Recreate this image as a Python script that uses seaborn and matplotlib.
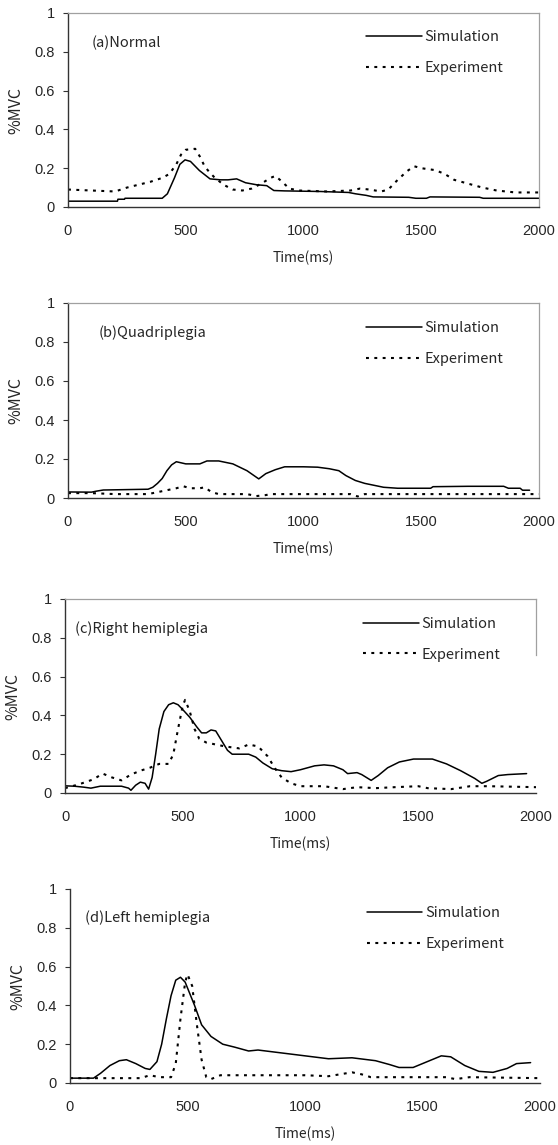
import matplotlib
matplotlib.use("Agg")
import matplotlib.pyplot as plt
import seaborn as sns

sns.set_style("white")
plt.rcParams['font.family'] = ['Noto Sans CJK JP', 'DejaVu Sans']

# ---------------- data ----------------
panel_titles = ["(a)Normal", "(b)Quadriplegia", "(c)Right hemiplegia", "(d)Left hemiplegia"]
series_names = ["Simulation", "Experiment"]
x_ticks = [0, 500, 1000, 1500, 2000]
x_tick_labels = ["0", "500", "1000", "1500", "2000"]
y_ticks = [0, 0.2, 0.4, 0.6, 0.8, 1.0]
y_tick_labels = ["0", "0.2", "0.4", "0.6", "0.8", "1"]
x_label = "Time(ms)"
y_label = "%MVC"

t_a_sim = [0, 210, 212, 240, 242, 400, 422, 452, 475, 497, 520, 558, 603, 648, 680, 716, 754, 799, 844, 874,
           920, 1070, 1191, 1221, 1266, 1296, 1447, 1477, 1522, 1537, 1748, 1763, 2000]
v_a_sim = [0.03, 0.03, 0.04, 0.04, 0.045, 0.045, 0.068, 0.15, 0.22, 0.243, 0.235, 0.188, 0.145, 0.14, 0.14,
           0.145, 0.125, 0.115, 0.11, 0.085, 0.083, 0.08, 0.075, 0.068, 0.06, 0.052, 0.05, 0.045, 0.045, 0.052,
           0.05, 0.045, 0.045]
t_a_exp = [0, 100, 200, 250, 300, 350, 400, 430, 460, 480, 500, 540, 560, 580, 600, 620, 660, 700, 740, 780,
           820, 860, 880, 900, 940, 980, 1100, 1200, 1240, 1280, 1330, 1360, 1400, 1440, 1470, 1500, 1560, 1600,
           1640, 1700, 1760, 1820, 1900, 2000]
v_a_exp = [0.09, 0.085, 0.08, 0.1, 0.115, 0.13, 0.15, 0.17, 0.22, 0.27, 0.295, 0.3, 0.26, 0.21, 0.18, 0.155,
           0.115, 0.09, 0.085, 0.095, 0.12, 0.15, 0.16, 0.14, 0.095, 0.085, 0.08, 0.085, 0.095, 0.09, 0.08, 0.09,
           0.14, 0.185, 0.21, 0.2, 0.19, 0.17, 0.14, 0.12, 0.1, 0.085, 0.075, 0.075]

t_b_sim = [0, 100, 120, 150, 200, 340, 360, 380, 400, 420, 440, 460, 500, 560, 590, 640, 700, 760, 810, 840,
           880, 920, 1000, 1060, 1110, 1150, 1180, 1220, 1260, 1300, 1340, 1400, 1540, 1550, 1700, 1850, 1870,
           1920, 1930, 1960]
v_b_sim = [0.031, 0.03, 0.035, 0.041, 0.042, 0.045, 0.055, 0.075, 0.1, 0.14, 0.17, 0.186, 0.175, 0.175, 0.19,
           0.19, 0.175, 0.14, 0.098, 0.125, 0.145, 0.16, 0.16, 0.158, 0.15, 0.14, 0.115, 0.09, 0.075, 0.065,
           0.055, 0.05, 0.05, 0.058, 0.06, 0.06, 0.05, 0.05, 0.04, 0.04]
t_b_exp = [0, 100, 200, 340, 380, 420, 460, 490, 520, 560, 580, 610, 640, 760, 800, 840, 860, 1000, 1200, 1230,
           1260, 1500, 2000]
v_b_exp = [0.025, 0.025, 0.02, 0.02, 0.03, 0.04, 0.05, 0.06, 0.05, 0.05, 0.055, 0.03, 0.02, 0.02, 0.01, 0.015,
           0.02, 0.02, 0.02, 0.008, 0.02, 0.02, 0.02]

t_c_sim = [0, 40, 80, 110, 150, 240, 270, 280, 300, 320, 340, 355, 370, 385, 400, 420, 440, 460, 480, 500, 530,
           560, 580, 600, 620, 640, 660, 690, 710, 780, 810, 840, 880, 920, 960, 1000, 1060, 1100, 1140, 1180,
           1200, 1240, 1260, 1300, 1330, 1370, 1420, 1480, 1560, 1620, 1680, 1740, 1770, 1790, 1840, 1880, 1960]
v_c_sim = [0.037, 0.035, 0.03, 0.025, 0.035, 0.035, 0.025, 0.014, 0.04, 0.056, 0.05, 0.02, 0.08, 0.2, 0.33,
           0.42, 0.455, 0.465, 0.455, 0.43, 0.39, 0.34, 0.31, 0.31, 0.325, 0.32, 0.28, 0.22, 0.2, 0.2, 0.185,
           0.155, 0.125, 0.115, 0.11, 0.12, 0.14, 0.145, 0.14, 0.12, 0.1, 0.105, 0.095, 0.065, 0.09, 0.13, 0.16,
           0.175, 0.175, 0.15, 0.115, 0.075, 0.05, 0.06, 0.09, 0.095, 0.1]
t_c_exp = [0, 60, 120, 160, 200, 240, 280, 320, 360, 380, 400, 440, 460, 480, 500, 510, 530, 550, 570, 600, 640,
           680, 740, 780, 820, 860, 890, 920, 960, 1000, 1100, 1180, 1240, 1320, 1400, 1500, 1540, 1640, 1720,
           1800, 2000]
v_c_exp = [0.025, 0.045, 0.07, 0.1, 0.08, 0.065, 0.095, 0.115, 0.13, 0.14, 0.15, 0.15, 0.2, 0.33, 0.45, 0.48,
           0.42, 0.33, 0.28, 0.26, 0.25, 0.24, 0.23, 0.25, 0.24, 0.19, 0.13, 0.08, 0.05, 0.035, 0.035, 0.02, 0.03,
           0.025, 0.03, 0.035, 0.025, 0.02, 0.035, 0.035, 0.03]

t_d_sim = [0, 100, 130, 170, 210, 240, 280, 320, 340, 370, 390, 410, 430, 450, 470, 490, 510, 530, 560, 600, 650,
           700, 760, 800, 900, 1000, 1100, 1200, 1300, 1360, 1400, 1460, 1520, 1580, 1620, 1680, 1740, 1800, 1860,
           1900, 1960]
v_d_sim = [0.025, 0.025, 0.05, 0.09, 0.115, 0.12, 0.1, 0.075, 0.07, 0.11, 0.2, 0.33, 0.45, 0.53, 0.545, 0.52,
           0.46, 0.4, 0.3, 0.24, 0.2, 0.185, 0.165, 0.17, 0.155, 0.14, 0.125, 0.13, 0.115, 0.095, 0.08, 0.08, 0.11,
           0.14, 0.135, 0.09, 0.06, 0.055, 0.075, 0.1, 0.105]
t_d_exp = [0, 300, 340, 380, 430, 450, 470, 490, 500, 520, 540, 560, 580, 600, 640, 800, 1000, 1100, 1150, 1200,
           1240, 1280, 1600, 1640, 1700, 2000]
v_d_exp = [0.025, 0.025, 0.04, 0.03, 0.03, 0.1, 0.33, 0.52, 0.56, 0.5, 0.3, 0.12, 0.03, 0.02, 0.04, 0.04, 0.04,
           0.035, 0.045, 0.055, 0.045, 0.03, 0.03, 0.02, 0.03, 0.025]

sim_data = [(t_a_sim, v_a_sim), (t_b_sim, v_b_sim), (t_c_sim, v_c_sim), (t_d_sim, v_d_sim)]
exp_data = [(t_a_exp, v_a_exp), (t_b_exp, v_b_exp), (t_c_exp, v_c_exp), (t_d_exp, v_d_exp)]

# ---------------- layout ----------------
W, H = 558, 1145
fig = plt.figure(figsize=(W / 100, H / 100), dpi=100)
# (left, right, top, bottom) in pixels
boxes = [(68, 539, 13, 207), (68, 539, 303, 498), (65, 536, 599, 793), (70, 540, 889, 1083)]
title_pos = [(0.051, 0.845), (0.064, 0.846), (0.021, 0.845), (0.032, 0.85)]
legend_pos = [(0.633, 0.796), (0.633, 0.792), (0.633, 0.793), (0.632, 0.796)]

tick_font = ['Liberation Sans', 'DejaVu Sans']
frame_grey = '#a0a0a0'

for i in range(4):
    l, r, t, b = boxes[i]
    ax = fig.add_axes([l / W, 1 - b / H, (r - l) / W, (b - t) / H])
    ts, vs = sim_data[i]
    te, ve = exp_data[i]
    sns.lineplot(x=ts, y=vs, ax=ax, color='black', linewidth=1.1, estimator=None,
                 label=series_names[0])
    sns.lineplot(x=te, y=ve, ax=ax, color='black', linewidth=1.5, estimator=None,
                 linestyle=(0, (1.4, 2.6)), label=series_names[1])
    ax.set_xlim(0, 2000)
    ax.set_ylim(0, 1)
    ax.set_xticks(x_ticks)
    ax.set_xticklabels(x_tick_labels, family=tick_font, fontsize=10.5)
    ax.set_yticks(y_ticks)
    ax.set_yticklabels(y_tick_labels, family=tick_font, fontsize=10.5)
    ax.tick_params(axis='x', length=0, pad=12)
    ax.tick_params(axis='y', direction='out', length=3.5, width=0.8, pad=6, left=True, color='#333333')
    ax.set_xlabel(x_label, fontsize=10, labelpad=9)
    ax.set_ylabel(y_label, fontsize=11.5, labelpad=7)
    for s in ['left', 'bottom']:
        ax.spines[s].set_color('#333333')
        ax.spines[s].set_linewidth(1.0)
        ax.spines[s].set_visible(True)
    for s in ['top', 'right']:
        ax.spines[s].set_color(frame_grey)
        ax.spines[s].set_linewidth(0.9)
    if i == 2:
        ax.spines['right'].set_bounds(0.71, 1.0)
    if i == 3:
        ax.spines['top'].set_visible(False)
        ax.spines['right'].set_visible(False)
    ax.text(title_pos[i][0], title_pos[i][1], panel_titles[i], transform=ax.transAxes,
            fontsize=10.5, va='center', ha='left')
    ax.legend(loc='center left', bbox_to_anchor=legend_pos[i], frameon=False,
              borderpad=0, borderaxespad=0, handlelength=3.8, handletextpad=0.2,
              labelspacing=1.15, fontsize=10.5)
    ax.set_facecolor('white')

fig.savefig("out.png", dpi=100, facecolor='white')
